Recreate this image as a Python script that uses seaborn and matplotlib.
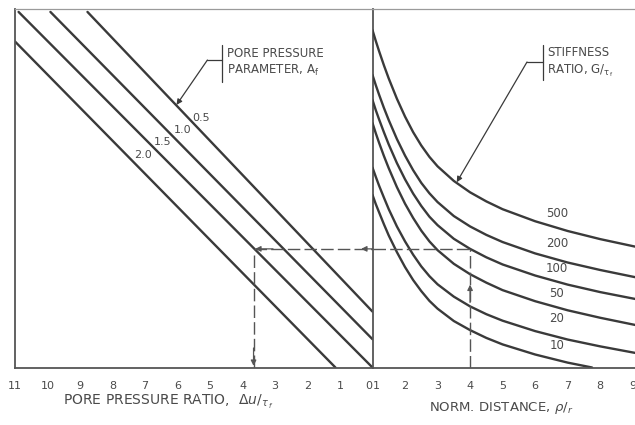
import matplotlib
matplotlib.use("Agg")
import matplotlib.pyplot as plt
import seaborn as sns
import pandas as pd

# ---------------- data ----------------
# Left panel: pore pressure parameter lines (x = pore pressure ratio, reversed axis)
af_labels = ["0.5", "1.0", "1.5", "2.0"]
af_x = [[0.0, 8.77], [0.0, 9.91], [0.0, 10.89], [1.14, 11.0]]
af_y = [[1.72, 10.94], [0.87, 10.94], [0.0, 10.94], [0.0, 10.03]]

# Right panel: stiffness ratio curves (x = normalised distance)
g_labels = ["500", "200", "100", "50", "20", "10"]
dist = [1.0, 1.1, 1.2, 1.35, 1.5, 1.75, 2.0, 2.25, 2.5, 2.75, 3.0, 3.5, 4.0, 4.5,
        5.0, 6.0, 7.0, 8.0, 9.07]
g500 = [10.38, 10.05, 9.74, 9.30, 8.89, 8.27, 7.72, 7.24, 6.83, 6.48, 6.19, 5.74, 5.39,
        5.11, 4.87, 4.50, 4.20, 3.95, 3.72]
g200 = [9.00, 8.69, 8.40, 7.99, 7.61, 7.03, 6.52, 6.07, 5.68, 5.36, 5.09, 4.66, 4.34,
        4.08, 3.86, 3.51, 3.23, 3.00, 2.78]
g100 = [8.23, 7.92, 7.64, 7.24, 6.86, 6.29, 5.79, 5.35, 4.97, 4.64, 4.38, 3.96, 3.65,
        3.39, 3.17, 2.83, 2.55, 2.32, 2.11]
g50 = [7.52, 7.21, 6.92, 6.51, 6.13, 5.55, 5.04, 4.60, 4.21, 3.88, 3.61, 3.19, 2.87,
       2.61, 2.38, 2.04, 1.76, 1.53, 1.31]
g20 = [6.15, 5.87, 5.60, 5.23, 4.87, 4.34, 3.88, 3.47, 3.11, 2.81, 2.56, 2.18, 1.88,
       1.64, 1.44, 1.12, 0.86, 0.65, 0.45]
dist10 = [1.0, 1.1, 1.2, 1.35, 1.5, 1.75, 2.0, 2.25, 2.5, 2.75, 3.0, 3.5, 4.0, 4.5,
          5.0, 6.0, 7.0, 7.75]
g10 = [5.31, 5.03, 4.78, 4.41, 4.06, 3.55, 3.09, 2.69, 2.35, 2.05, 1.81, 1.43, 1.15,
       0.91, 0.71, 0.40, 0.15, 0.0]

left_ticks = [11, 10, 9, 8, 7, 6, 5, 4, 3, 2, 1, 0]
right_ticks = [1, 2, 3, 4, 5, 6, 7, 8, 9]

# worked example
ex_ratio = 3.66
ex_dist = 4.0
ex_level = 3.65

# ---------------- frames ----------------
rows = []
for lab, xs, ys in zip(af_labels, af_x, af_y):
    for x, y in zip(xs, ys):
        rows.append({"x": x, "y": y, "Af": lab})
df_left = pd.DataFrame(rows)

rows = []
curves = [g500, g200, g100, g50, g20]
for lab, ys in zip(g_labels[:5], curves):
    for x, y in zip(dist, ys):
        rows.append({"x": x, "y": y, "G": lab})
for x, y in zip(dist10, g10):
    rows.append({"x": x, "y": y, "G": "10"})
df_right = pd.DataFrame(rows)

# ---------------- style ----------------
sns.set_style("white")
plt.rcParams["font.family"] = ["DejaVu Sans"]
plt.rcParams["mathtext.fontset"] = "dejavusans"

INK = "#3a3a3a"
TXT = "#4a4a4a"
FRAME = "#555555"

fig = plt.figure(figsize=(6.35, 4.25), dpi=100)
W, H = 635.0, 425.0
bottom_px, top_px = 367.5, 9.0
ax1 = fig.add_axes([15 / W, 1 - bottom_px / H, 357.5 / W, (bottom_px - top_px) / H])
ax2 = fig.add_axes([372.5 / W, 1 - bottom_px / H, 262.5 / W, (bottom_px - top_px) / H])
YTOP = 11.03

sns.lineplot(data=df_left, x="x", y="y", units="Af", estimator=None, sort=False,
             color=INK, lw=1.7, ax=ax1, legend=False)
sns.lineplot(data=df_right, x="x", y="y", units="G", estimator=None, sort=False,
             color=INK, lw=1.7, ax=ax2, legend=False)

ax1.set_xlim(11, 0)
ax1.set_ylim(0, YTOP)
ax2.set_xlim(1, 9.07)
ax2.set_ylim(0, YTOP)

for ax in (ax1, ax2):
    ax.set_yticks([])
    ax.set_ylabel("")
    ax.set_xlabel("")
    for s in ax.spines.values():
        s.set_color(FRAME)
        s.set_linewidth(1.3)
    ax.spines["top"].set_color("#9a9a9a")
    ax.spines["top"].set_linewidth(0.9)
    ax.tick_params(axis="x", direction="out", length=4, width=0.9, color="#777777",
                   labelsize=8, labelcolor=TXT, pad=6)
    ax.patch.set_alpha(0)
ax2.spines["left"].set_visible(False)
ax2.spines["right"].set_visible(False)

ax1.set_xticks(left_ticks)
ax1.set_xticklabels([str(t) for t in left_ticks])
ax1.get_xticklabels()[-1].set_horizontalalignment("right")
ax2.set_xticks(right_ticks)
ax2.set_xticklabels([str(t) for t in right_ticks])
ax2.get_xticklabels()[0].set_horizontalalignment("left")

# axis titles
fig.text(168 / W, 1 - 402 / H, r"PORE PRESSURE RATIO,  $\Delta u/_{\tau_{\,f}}$",
         ha="center", va="center", fontsize=10, color=TXT)
fig.text(501 / W, 1 - 408 / H, r"NORM. DISTANCE, $\rho/_{r}$",
         ha="center", va="center", fontsize=9.5, color=TXT)

# line labels (left)
af_lab_pos = [(5.29, 7.68), (5.85, 7.31), (6.46, 6.94), (7.05, 6.54)]
for lab, (x, y) in zip(af_labels, af_lab_pos):
    ax1.text(x, y, lab, fontsize=8, color=TXT, ha="center", va="center")

# curve labels (right)
g_lab_y = [4.75, 3.83, 3.06, 2.29, 1.52, 0.69]
for lab, y in zip(g_labels, g_lab_y):
    ax2.text(6.67, y, lab, fontsize=8.5, color=TXT, ha="center", va="center")

# annotation: pore pressure parameter
ax1.plot([4.62, 4.62], [9.92, 8.78], color=INK, lw=0.9, clip_on=False)
ax1.plot([4.62, 5.08], [9.46, 9.46], color=INK, lw=0.9)
ax1.annotate("", xy=(6.03, 8.08), xytext=(5.08, 9.46),
             arrowprops=dict(arrowstyle="-|>", color=INK, lw=0.9, mutation_scale=8,
                             shrinkA=0, shrinkB=0))
ax1.text(4.48, 9.38, "PORE PRESSURE\nPARAMETER, $\\mathrm{A_f}$", fontsize=8.5,
         color=TXT, ha="left", va="center", linespacing=1.3)

# annotation: stiffness ratio
ax2.plot([6.24, 6.24], [9.92, 8.85], color=INK, lw=0.9)
ax2.plot([6.24, 5.75], [9.40, 9.40], color=INK, lw=0.9)
ax2.annotate("", xy=(3.59, 5.70), xytext=(5.75, 9.40),
             arrowprops=dict(arrowstyle="-|>", color=INK, lw=0.9, mutation_scale=8,
                             shrinkA=0, shrinkB=0))
ax2.text(6.36, 9.38, "STIFFNESS\nRATIO, $\\mathrm{G/_{\\tau_{\\,f}}}$", fontsize=8.5,
         color=TXT, ha="left", va="center", linespacing=1.3)

# worked example (dashed)
dash = dict(color="#555555", lw=1.0, dashes=(9, 3))
ax1.plot([ex_ratio, 0], [ex_level, ex_level], **dash)
ax1.plot([ex_ratio, ex_ratio], [ex_level - 0.18, 0], **dash)
ax2.plot([1, ex_dist], [ex_level, ex_level], **dash)
ax2.plot([ex_dist, ex_dist], [0, ex_level], **dash)
arr = dict(arrowstyle="-|>", color="#555555", lw=0.9, mutation_scale=8, shrinkA=0, shrinkB=0)
ax1.annotate("", xy=(ex_ratio - 0.05, ex_level), xytext=(ex_ratio - 0.6, ex_level), arrowprops=arr)
ax1.annotate("", xy=(ex_ratio, 0.05), xytext=(ex_ratio, 0.6), arrowprops=arr)
ax2.annotate("", xy=(ex_dist, 2.55), xytext=(ex_dist, 2.0), arrowprops=arr)
ax1.annotate("", xy=(0.35, ex_level), xytext=(0.0, ex_level), arrowprops=arr)

fig.savefig("out.png", dpi=100)
